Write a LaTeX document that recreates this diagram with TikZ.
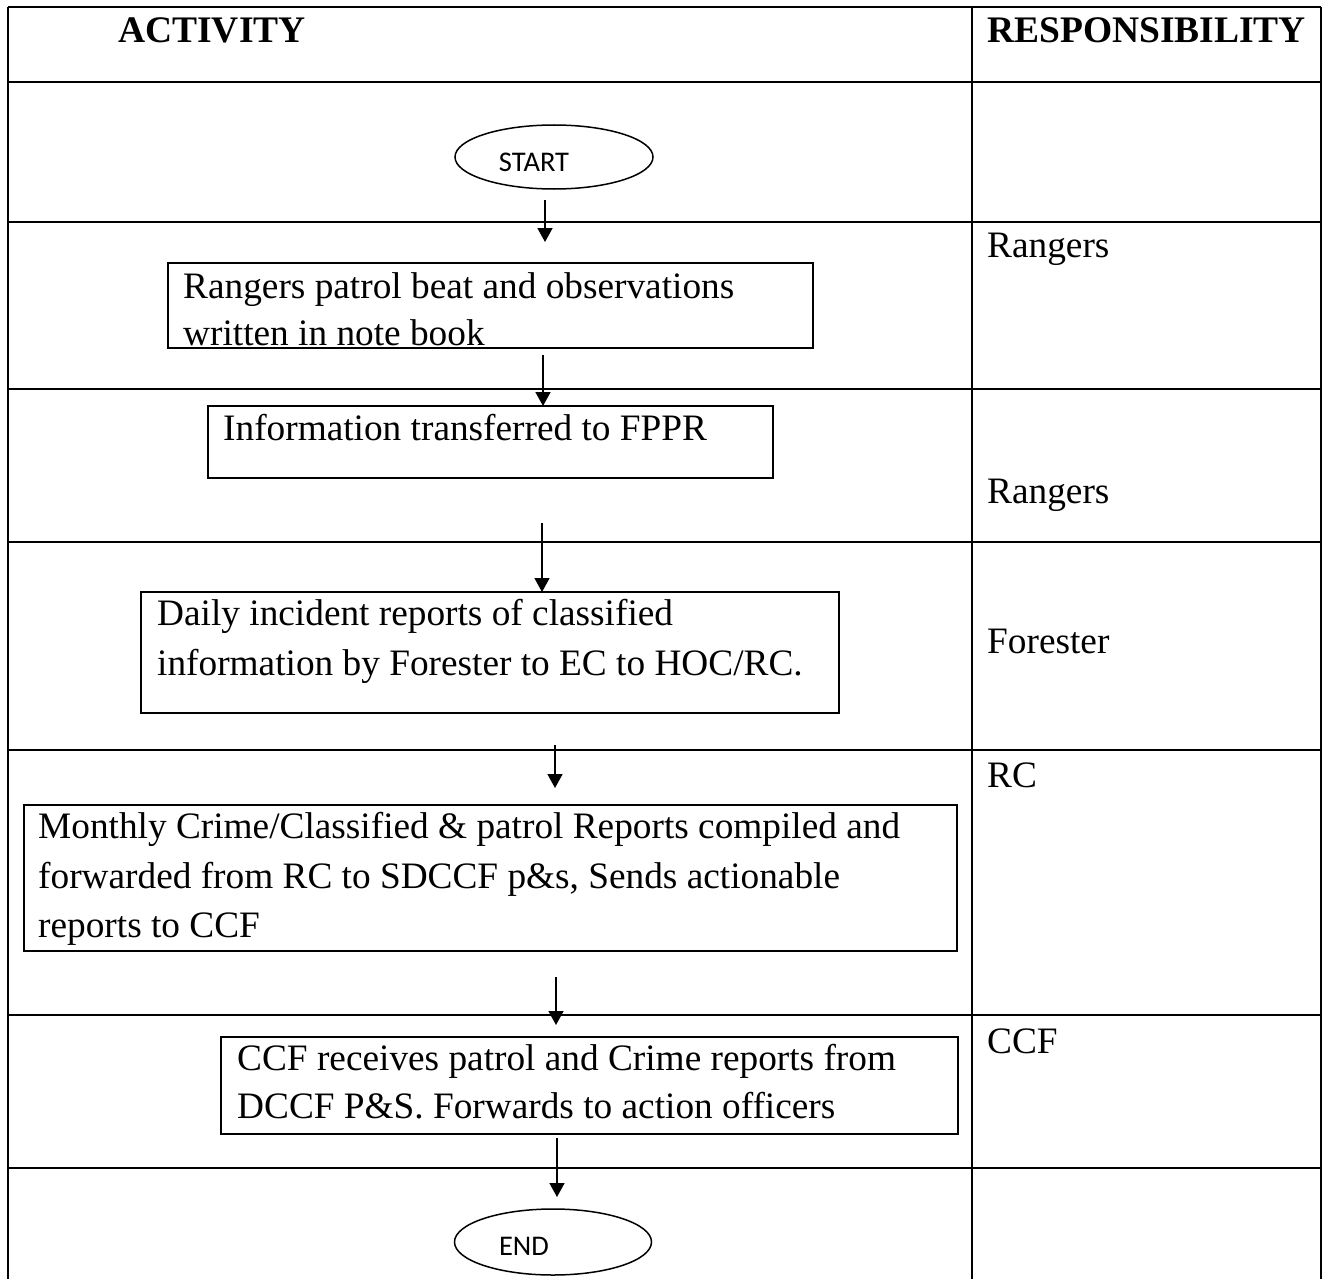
\documentclass[tikz,border=0pt]{standalone}
\usepackage{fontspec}
\setmainfont{Liberation Serif}
\newfontfamily\calfont{Carlito}
\usetikzlibrary{shapes.geometric,arrows.meta}
\tikzset{
  grid/.style={line width=2.6pt},
  box/.style={draw, line width=2pt, rectangle, inner sep=0pt, outer sep=0pt, anchor=north west},
  term/.style={draw, line width=1.5pt, ellipse, inner sep=0pt},
  termtext/.style={font=\calfont\fontsize{28.5}{32}\selectfont, inner sep=0pt},
  txt/.style={font=\fontsize{37.3}{44}\selectfont, anchor=base west, inner sep=0pt},
  head/.style={font=\bfseries\fontsize{37.5}{44}\selectfont, anchor=base west, inner sep=0pt},
  arr/.style={line width=1.6pt, -{Triangle[length=14pt,width=15pt]}}
}
\begin{document}
\begin{tikzpicture}[x=1pt,y=-1pt]
\useasboundingbox (0,0) rectangle (1324,1279);
% table grid
\draw[grid] (8,7) -- (1321,7);
\foreach \yy in {82,222,389,542,750,1015,1168}
  \draw[grid] (8,\yy) -- (1321,\yy);
\draw[grid] (8,7) -- (8,1279);
\draw[grid] (972,7) -- (972,1279);
\draw[grid] (1321,7) -- (1321,1279);
% headers
\node[head] (hact) at (118,43) {ACTIVITY};
\node[head] (hresp) at (987,43) {RESPONSIBILITY};
% terminals
\node[term, minimum width=198pt, minimum height=64pt] (start) at (554,157) {};
\node[termtext] (starttxt) at (534,162.5) {START};
\node[term, minimum width=197pt, minimum height=66pt] (end) at (553,1242) {};
\node[termtext] (endtxt) at (524,1246) {END};
% boxes
\node[box, minimum width=645pt, minimum height=85pt] (b1) at (168,263) {};
\node[txt] (t1a) at (183,298) {Rangers patrol beat and observations};
\node[txt] (t1b) at (183,345) {written in note book};
\node[box, minimum width=565pt, minimum height=72pt] (b2) at (208,406) {};
\node[txt] (t2) at (223,440) {Information transferred to FPPR};
\node[box, minimum width=698pt, minimum height=121pt] (b3) at (141,592) {};
\node[txt] (t3a) at (157,625) {Daily incident reports of classified};
\node[txt] (t3b) at (157,675) {information by Forester to EC to HOC/RC.};
\node[box, minimum width=933pt, minimum height=146pt] (b4) at (24,805) {};
\node[txt] (t4a) at (38,838) {Monthly Crime/Classified \& patrol Reports compiled and};
\node[txt] (t4b) at (38,888) {forwarded from RC to SDCCF p\&s, Sends actionable};
\node[txt] (t4c) at (38,937) {reports to CCF};
\node[box, minimum width=737pt, minimum height=97pt] (b5) at (221,1037) {};
\node[txt] (t5a) at (237,1070) {CCF receives patrol and Crime reports from};
\node[txt] (t5b) at (237,1118) {DCCF P\&S. Forwards to action officers};
% responsibilities
\node[txt] (r1) at (987,257) {Rangers};
\node[txt] (r2) at (987,503) {Rangers};
\node[txt] (r3) at (987,653) {Forester};
\node[txt] (r4) at (987,787) {RC};
\node[txt] (r5) at (987,1053) {CCF};
% arrow end points
\coordinate (a1s) at (545,200); \coordinate (a1e) at (545,242);
\coordinate (a2s) at (543,355); \coordinate (a2e) at (543,406);
\coordinate (a3s) at (542,523); \coordinate (a3e) at (542,592);
\coordinate (a4s) at (555,745); \coordinate (a4e) at (555,788);
\coordinate (a5s) at (556,977); \coordinate (a5e) at (556,1025);
\coordinate (a6s) at (557,1138); \coordinate (a6e) at (557,1197);
\draw[arr] (a1s) -- (a1e);
\draw[arr] (a2s) -- (a2e);
\draw[arr] (a3s) -- (a3e);
\draw[arr] (a4s) -- (a4e);
\draw[arr] (a5s) -- (a5e);
\draw[arr] (a6s) -- (a6e);
\end{tikzpicture}
\end{document}
